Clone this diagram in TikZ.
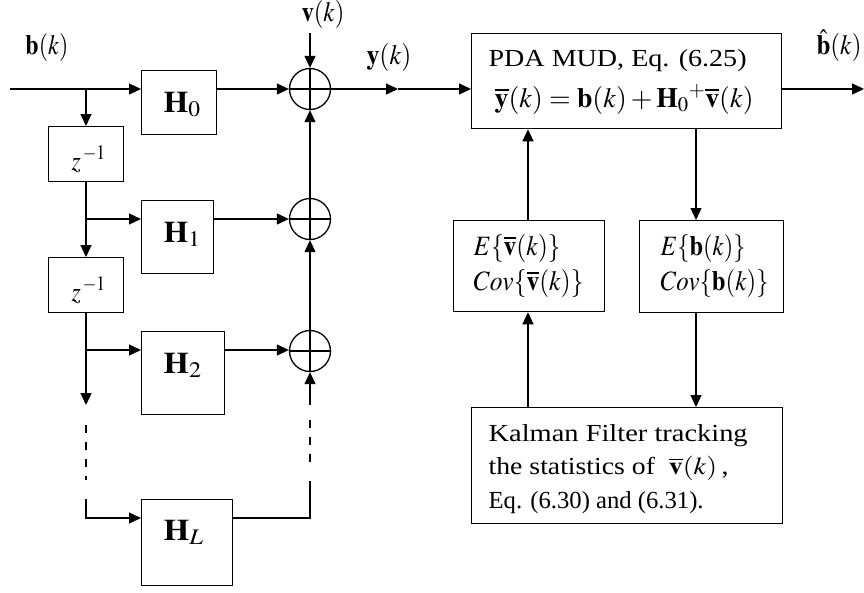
\documentclass[tikz,border=0pt]{standalone}
\usepackage{mathptmx}
\usepackage{fontspec}
\setmainfont{Liberation Serif}
\usepackage{graphicx}
\usetikzlibrary{arrows.meta}
\newcommand{\fw}[2]{\resizebox{#1}{\height}{#2}}
\newcommand{\fsT}{\fontsize{24.5}{28}\selectfont}
\newcommand{\fsM}{\fontsize{28}{32}\selectfont}
\newcommand{\fsH}{\fontsize{30}{34}\selectfont}
\newcommand{\bvv}{\overline{\mathbf{v}}}
\begin{document}
\begin{tikzpicture}[x=1pt,y=-1pt,line width=1.25pt,
  arr/.style={-{Triangle[length=12pt,width=11pt]}},
  blk/.style={draw,line width=1.3pt,inner sep=0,anchor=north west},
  sumc/.style={draw,circle,minimum size=41pt,inner sep=0,line width=1.3pt},
  tx/.style={inner sep=0,font=\fsT,anchor=base west},
  mx/.style={inner sep=0,font=\fsM,anchor=base west},
  ml/.style={inner sep=0,font=\fsM},
  hx/.style={inner sep=0,font=\fsH,anchor=base west},
  dsh/.style={dash pattern=on 8pt off 9pt}]
\useasboundingbox (0,0) rectangle (864,592);

% blocks
\node[blk,minimum width=75pt,minimum height=55pt] (z1) at (48,126) {};
\node[blk,minimum width=75pt,minimum height=55pt] (z2) at (48,257) {};
\node[blk,minimum width=75pt,minimum height=64pt] (h0) at (141,70) {};
\node[blk,minimum width=72pt,minimum height=73pt] (h1) at (141,200) {};
\node[blk,minimum width=83pt,minimum height=83pt] (h2) at (141,331) {};
\node[blk,minimum width=91pt,minimum height=86pt] (hl) at (141,499) {};
\node[blk,minimum width=310pt,minimum height=95pt] (pda) at (471,33) {};
\node[blk,minimum width=151pt,minimum height=91pt] (ev) at (453,220) {};
\node[blk,minimum width=144pt,minimum height=92pt] (eb) at (639,220) {};
\node[blk,minimum width=311pt,minimum height=116pt] (kf) at (471,407) {};

% summing junctions
\node[sumc] (s1) at (310,89) {};
\node[sumc] (s2) at (310,219) {};
\node[sumc] (s3) at (310,351) {};
\foreach \s in {s1,s2,s3}{\draw (\s.north) -- (\s.south) (\s.west) -- (\s.east);}

% block texts
\node[mx] (z1t) at (71,170) {\fw{34pt}{$z^{\,-1}$}};
\node[mx] (z2t) at (71,301) {\fw{34pt}{$z^{\,-1}$}};
\node[hx] (h0t) at (163,112) {\fw{37pt}{$\mathbf{H}_0$}};
\node[hx] (h1t) at (163,242) {\fw{37pt}{$\mathbf{H}_1$}};
\node[hx] (h2t) at (163,373) {\fw{38pt}{$\mathbf{H}_2$}};
\node[hx] (hlt) at (163,540) {\fw{40pt}{$\mathbf{H}_L$}};

\node[tx] (p1) at (488,66) {\fw{258pt}{PDA MUD, Eq. (6.25)}};
\node[mx] (p2) at (494,107) {\fw{259pt}{$\overline{\mathbf{y}}(k)=\mathbf{b}(k)+\mathbf{H}_0{}^{+}\bvv(k)$}};
\node[mx] (e1) at (473,255) {\fw{87pt}{$E\{\bvv(k)\}$}};
\node[mx] (e2) at (473,290) {\fw{110pt}{$Cov\{\bvv(k)\}$}};
\node[mx] (f1) at (660,255) {\fw{85pt}{$E\{\mathbf{b}(k)\}$}};
\node[mx] (f2) at (660,290) {\fw{108pt}{$Cov\{\mathbf{b}(k)\}$}};
\node[tx] (k1) at (488,441) {\fw{259pt}{Kalman Filter tracking}};
\node[tx] (k2) at (488,474) {\fw{240pt}{the statistics of \ $\bvv(k)$\,,}};
\node[tx] (k3) at (488,508) {\fw{215pt}{Eq. (6.30) and (6.31).}};

% signal labels
\node[ml] (lb) at (47,47) {\fw{43pt}{$\mathbf{b}(k)$}};
\node[ml] (lv) at (323,14) {\fw{43pt}{$\mathbf{v}(k)$}};
\node[ml] (ly) at (389,57) {\fw{45pt}{$\mathbf{y}(k)$}};
\node[ml] (lbh) at (839,46) {\fw{45pt}{$\hat{\mathbf{b}}(k)$}};

% coordinates
\coordinate (bin) at (10,89);
\coordinate (j0) at (86,89);
\coordinate (j1) at (86,219);
\coordinate (j2) at (86,350);
\coordinate (dl0) at (86,405);
\coordinate (dl1) at (86,425);
\coordinate (dl2) at (86,480);
\coordinate (dl3) at (86,499);
\coordinate (jl) at (86,518);
\coordinate (dr0) at (310,405);
\coordinate (dr1) at (310,420);
\coordinate (dr2) at (310,462);
\coordinate (dr3) at (310,481);
\coordinate (vin) at (310,33);
\coordinate (ym) at (398,89);
\coordinate (bout) at (864,89);
\coordinate (cA) at (528,0);
\coordinate (cB) at (696,0);

% left chain
\draw[arr] (bin) -- (h0.west |- bin);
\draw[arr] (j0) -- (j0 |- z1.north);
\draw[arr] (j0 |- z1.south) -- (j0 |- z2.north);
\draw[arr] (j1) -- (h1.west |- j1);
\draw[arr] (j0 |- z2.south) -- (dl0);
\draw[arr] (j2) -- (h2.west |- j2);
\draw[dsh] (dl1) -- (dl2);
\draw[arr] (dl3) -- (jl) -- (hl.west |- jl);

% to summers
\draw[arr] (h0.east |- s1) -- (s1.west);
\draw[arr] (h1.east |- s2) -- (s2.west);
\draw[arr] (h2.east |- j2) -- (s3.west |- j2);
\draw (hl.east |- jl) -| (dr3);
\draw[dsh] (dr2) -- (dr1);
\draw[arr] (dr0) -- (s3.south);
\draw[arr] (s3.north) -- (s2.south);
\draw[arr] (s2.north) -- (s1.south);
\draw[arr] (vin) -- (s1.north);

% to detector
\draw[arr] (s1.east) -- (ym);
\draw[arr] (ym) -- (pda.west |- ym);
\draw[arr] (pda.east |- ym) -- (bout);

% feedback
\draw[arr] (ev.north -| cA) -- (pda.south -| cA);
\draw[arr] (pda.south -| cB) -- (eb.north -| cB);
\draw[arr] (kf.north -| cA) -- (ev.south -| cA);
\draw[arr] (eb.south -| cB) -- (kf.north -| cB);
\end{tikzpicture}
\end{document}
